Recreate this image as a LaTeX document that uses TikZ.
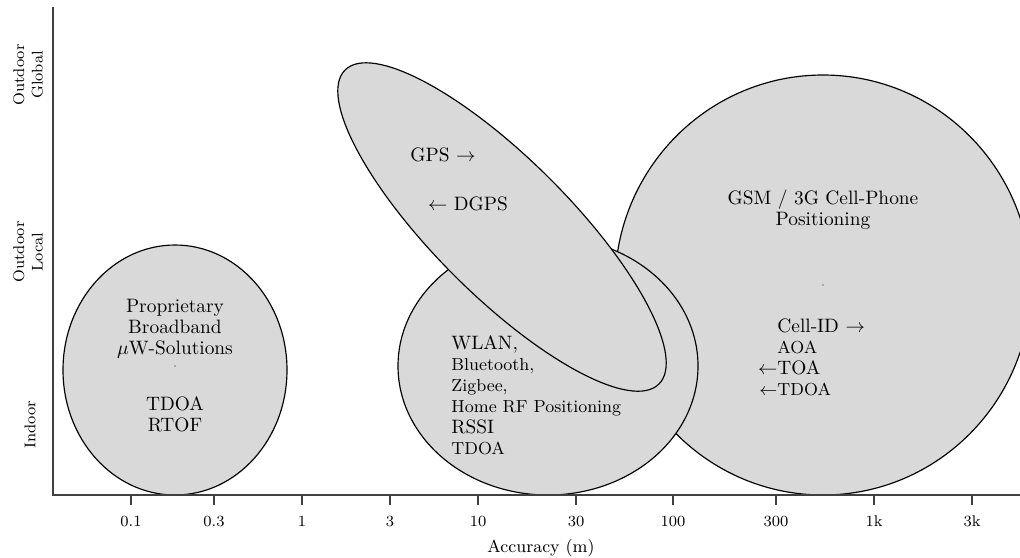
\documentclass[tikz,border=0pt]{standalone}
\usepackage{tikz}
\definecolor{zonaGris}{HTML}{D9D9D9}
\definecolor{ejeGris}{HTML}{404040}
\tikzset{
	zona/.style={
		draw=black,
		fill=zonaGris,
		line width=0.6pt
	},
	eje/.style={
		draw=ejeGris,
		line width=1pt
	},
	marca/.style={
		draw=ejeGris,
		line width=0.8pt
	},
	valor/.style={
		font=\footnotesize,
		inner sep=0pt
	},
	categoria/.style={
		font=\footnotesize,
		rotate=90,
		align=center,
		inner sep=0pt
	},
	texto/.style={
		align=center,
		inner sep=0pt
	},
	lista/.style={
		align=left,
		anchor=west,
		inner sep=0pt
	}
}

\begin{document}
\begin{tikzpicture}[x=0.01812cm, y=-0.01812cm]
		\clip (0,0) rectangle (1020,557);
		% zonas de cobertura
		\draw[zona] (175,370) ellipse [x radius=112, y radius=125];
		\draw[zona] (823,285) ellipse [x radius=208, y radius=210];
		\draw[zona] (548,366) ellipse [x radius=150, y radius=129];
		\draw[zona, rotate around={-45:(502,227)}] (502,227) ellipse [x radius=222, y radius=68];
		\fill (175,366) circle [radius=0.7];
		\fill (823,285) circle [radius=0.7];
		% ejes
		\draw[eje] (53,7) -- (53,495) -- (1025,495);
		\foreach \px/\etq in {131/0.1, 214/0.3, 302/1, 390/3, 478/10, 576/30, 673/100, 776/300, 874/1k, 972/3k}{
			\draw[marca] (\px,495) -- (\px,505);
			\node[valor] (valor\px) at (\px,521) {\etq};
		}
		\node[font=\small] (precision) at (541,548) {Accuracy (m)};
		\node[categoria] (global) at (28,75) {Outdoor\\Global};
		\node[categoria] (local) at (28,252) {Outdoor\\Local};
		\node[categoria] (interior) at (30,425) {Indoor};
		% textos
		\node[texto] (propietaria) at (175,329) {Proprietary\\[-1.2pt]Broadband\\[-1.2pt]$\mu$W-Solutions};
		\node[texto] (metodosUWB) at (175,414) {TDOA\\[-1.2pt]RTOF};
		\node[lista] (wlan) at (451,395) {WLAN,\\[-1.2pt]{\small Bluetooth,}\\[-1.2pt]{\small Zigbee,}\\[-1.2pt]{\small Home RF Positioning}\\[-1.2pt]RSSI\\[-1.2pt]{\small TDOA}};
		\node (gps) at (443,155) {GPS $\rightarrow$};
		\node (dgps) at (468,204) {$\leftarrow$ DGPS};
		\node[texto] (gsm) at (823,210) {GSM / 3G Cell-Phone\\[-1.2pt]Positioning};
		\node[lista] (celda) at (777,357) {Cell-ID $\rightarrow$\\[-1.2pt]{\small AOA}\\[-1.2pt]\llap{$\leftarrow$}TOA\\[-1.2pt]{\small\llap{$\leftarrow$}TDOA}};
	\end{tikzpicture}
\end{document}
